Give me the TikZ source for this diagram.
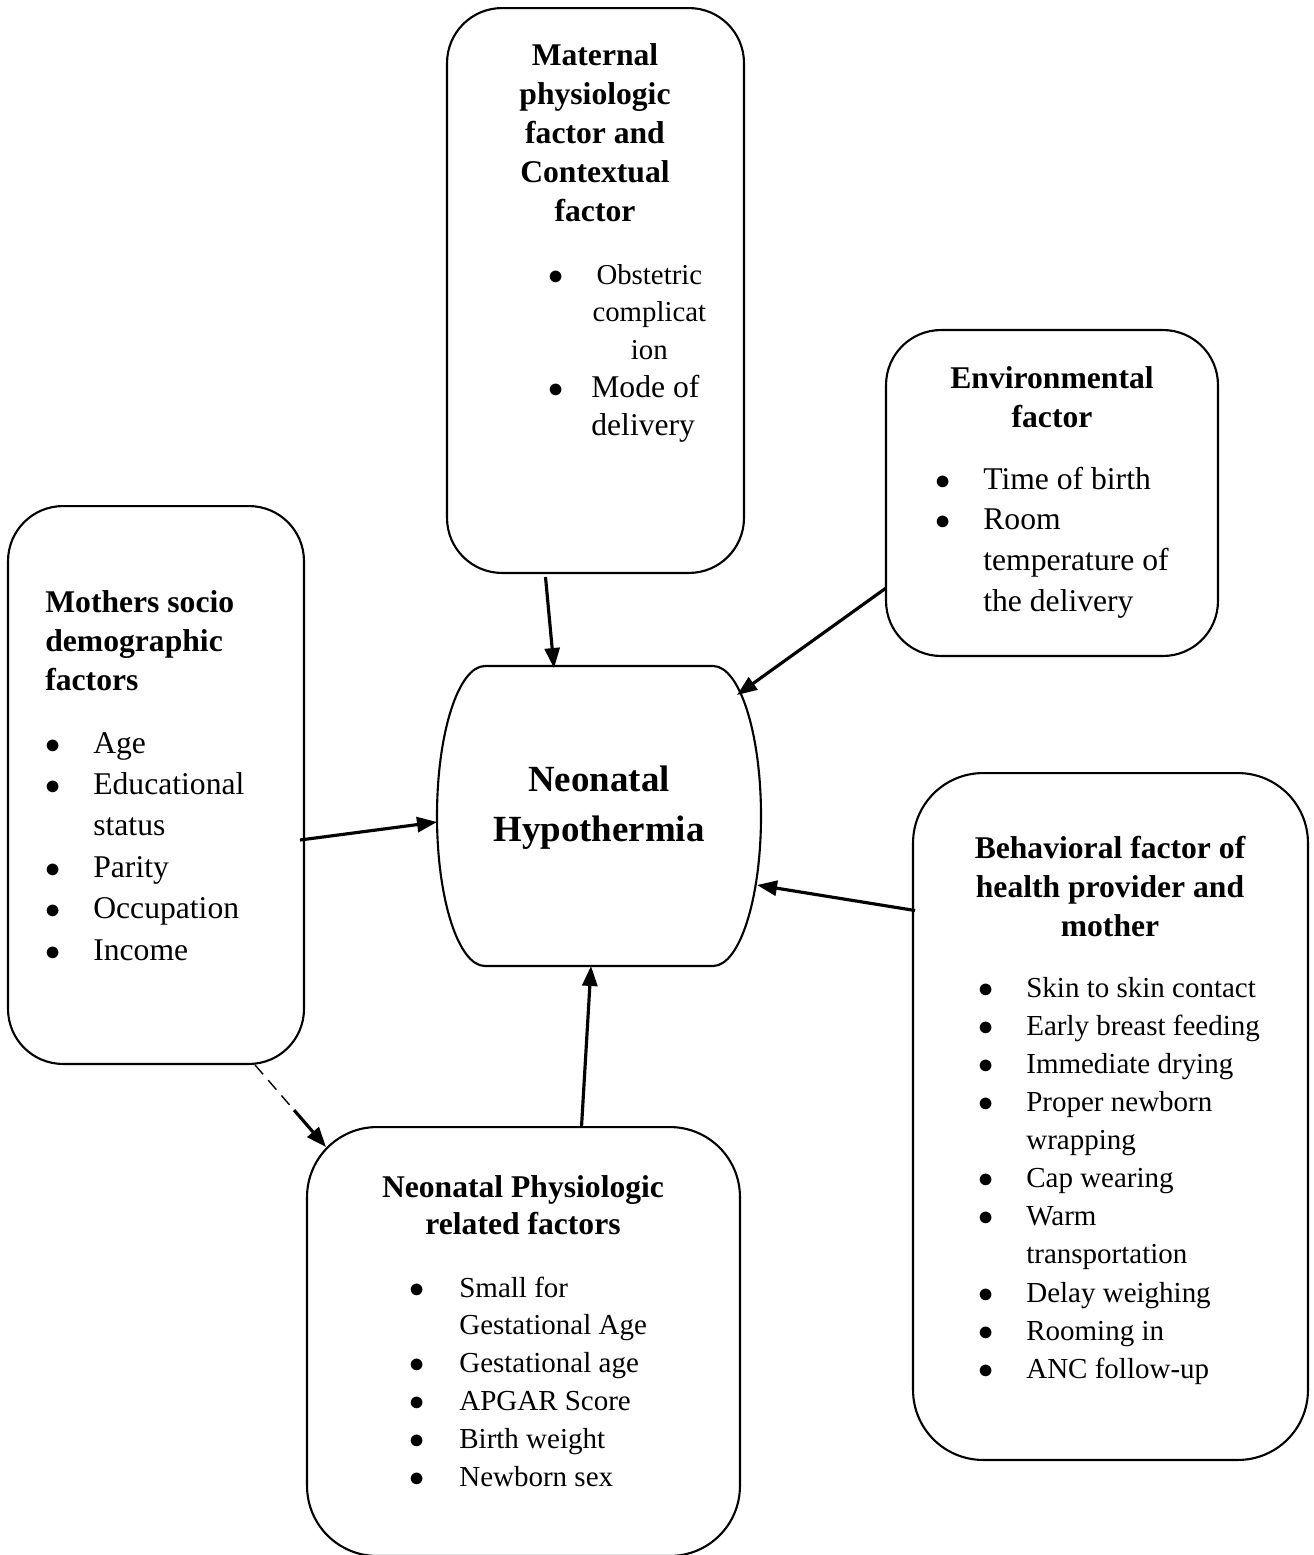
\documentclass[tikz,border=0pt]{standalone}
\usepackage{fontspec}
\setmainfont{Liberation Serif}
\usetikzlibrary{arrows.meta,calc}
\newcommand{\bul}[1][0.66cm]{\llap{$\bullet$\hspace{#1}}}

\begin{document}
\begin{tikzpicture}[x=0.02cm, y=-0.02cm,
	factor/.style={draw, line width=1.2pt, rounded corners=1.1cm, inner sep=0pt, outer sep=0pt},
	head/.style={inner sep=0pt, anchor=base, font=\bfseries\fontsize{18}{22.2}\selectfont},
	items/.style={inner sep=0pt, anchor=base west, font=\fontsize{18}{22.8}\selectfont},
	arrow/.style={->, line width=1.8pt},
	>={Triangle[length=0.4cm, width=0.3cm]}]
	\useasboundingbox (0,0) rectangle (1314,1555);

	\node[factor, minimum width=5.94cm, minimum height=11.3cm] (mat) at (595.5,290.5) {};
	\node[factor, minimum width=6.64cm, minimum height=6.52cm] (env) at (1052,493) {};
	\node[factor, minimum width=5.92cm, minimum height=11.16cm] (mom) at (156,785) {};
	\node[factor, rounded corners=1.4cm, minimum width=7.9cm, minimum height=13.74cm] (beh) at (1110.5,1116.5) {};
	\node[factor, rounded corners=1.4cm, minimum width=8.66cm, minimum height=8.58cm] (phys) at (523.5,1341.5) {};
	\node[inner sep=0pt, outer sep=0pt, minimum width=6.48cm, minimum height=6cm] (hypo) at (599,816) {};
	\draw[line width=1.2pt] (485,666) -- (713,666) .. controls (739.5,666) and (761,733) .. (761,816)
		.. controls (761,899) and (739.5,966) .. (713,966) -- (485,966)
		.. controls (458.5,966) and (437,899) .. (437,816) .. controls (437,733) and (458.5,666) .. (485,666) -- cycle;

	\node[head] (mattitle) at (595,65) {\begin{tabular}[t]{@{}c@{}}Maternal\\physiologic\\factor and\\Contextual\\factor\end{tabular}};
	\node[items, font=\fontsize{18}{21.6}\selectfont] (matlist) at (591,284) {\begin{tabular}[t]{@{}l@{}}
		\bul[0.56cm]\makebox[2.32cm]{\fontsize{16.4}{20}\selectfont Obstetric}\\
		\makebox[2.32cm]{\fontsize{16.4}{20}\selectfont complicat}\\
		\makebox[2.32cm]{\fontsize{16.4}{20}\selectfont ion}\\
		\bul[0.56cm]Mode of\\
		delivery
	\end{tabular}};

	\node[head] (envtitle) at (1052,388) {\begin{tabular}[t]{@{}c@{}}Environmental\\factor\end{tabular}};
	\node[items, font=\fontsize{18}{23.2}\selectfont] (envlist) at (983,489) {\begin{tabular}[t]{@{}l@{}}
		\bul Time of birth\\
		\bul Room\\
		temperature of\\
		the delivery
	\end{tabular}};

	\node[head, anchor=base west] (momtitle) at (45,612) {\begin{tabular}[t]{@{}l@{}}Mothers socio\\demographic\\factors\end{tabular}};
	\node[items, font=\fontsize{18}{23.6}\selectfont] (momlist) at (93,753) {\begin{tabular}[t]{@{}l@{}}
		\bul Age\\
		\bul Educational\\
		status\\
		\bul Parity\\
		\bul Occupation\\
		\bul Income
	\end{tabular}};

	\node[inner sep=0pt, anchor=base, font=\bfseries\fontsize{21}{28.5}\selectfont] (hypotitle) at (599,791) {\begin{tabular}[t]{@{}c@{}}Neonatal\\Hypothermia\end{tabular}};

	\node[head] (behtitle) at (1110,858) {\begin{tabular}[t]{@{}c@{}}Behavioral factor of\\health provider and\\mother\end{tabular}};
	\node[items, font=\fontsize{16.5}{21.7}\selectfont] (behlist) at (1026,997) {\begin{tabular}[t]{@{}l@{}}
		\bul[0.65cm]Skin to skin contact\\
		\bul[0.65cm]Early breast feeding\\
		\bul[0.65cm]Immediate drying\\
		\bul[0.65cm]Proper newborn\\
		wrapping\\
		\bul[0.65cm]Cap wearing\\
		\bul[0.65cm]Warm\\
		transportation\\
		\bul[0.65cm]Delay weighing\\
		\bul[0.65cm]Rooming in\\
		\bul[0.65cm]ANC follow-up
	\end{tabular}};

	\node[head, font=\bfseries\fontsize{18}{21.6}\selectfont] (phystitle) at (523,1197) {\begin{tabular}[t]{@{}c@{}}Neonatal Physiologic\\related factors\end{tabular}};
	\node[items, font=\fontsize{16.5}{21.6}\selectfont] (physlist) at (459,1297) {\begin{tabular}[t]{@{}l@{}}
		\bul[0.69cm]Small for\\
		Gestational Age\\
		\bul[0.69cm]Gestational age\\
		\bul[0.69cm]APGAR Score\\
		\bul[0.69cm]Birth weight\\
		\bul[0.69cm]Newborn sex
	\end{tabular}};

	\draw[arrow] ($(mat.south)+(-50,4)$) -- ($(hypo.north)+(-45,2)$);
	\draw[arrow] ($(env.west)+(0,95)$) -- ($(hypo.center)+(138,-121)$);
	\draw[arrow] ($(mom.east)+(-4,55)$) -- ($(hypo.west)+(0,6)$);
	\draw[arrow] ($(beh.west)+(2,-206)$) -- ($(hypo.center)+(158,69)$);
	\draw[arrow] ($(phys.north)+(58,0)$) -- ($(hypo.south)+(-8,0)$);

	\coordinate (dstart) at ($(mom.south)+(99,1)$);
	\coordinate (dend) at ($(phys.north west)+(19,20)$);
	\draw[line width=0.8pt, dash pattern=on 7pt off 4.5pt] (dstart) -- ($(dstart)!0.55!(dend)$);
	\draw[arrow] ($(dstart)!0.55!(dend)$) -- (dend);
\end{tikzpicture}
\end{document}
